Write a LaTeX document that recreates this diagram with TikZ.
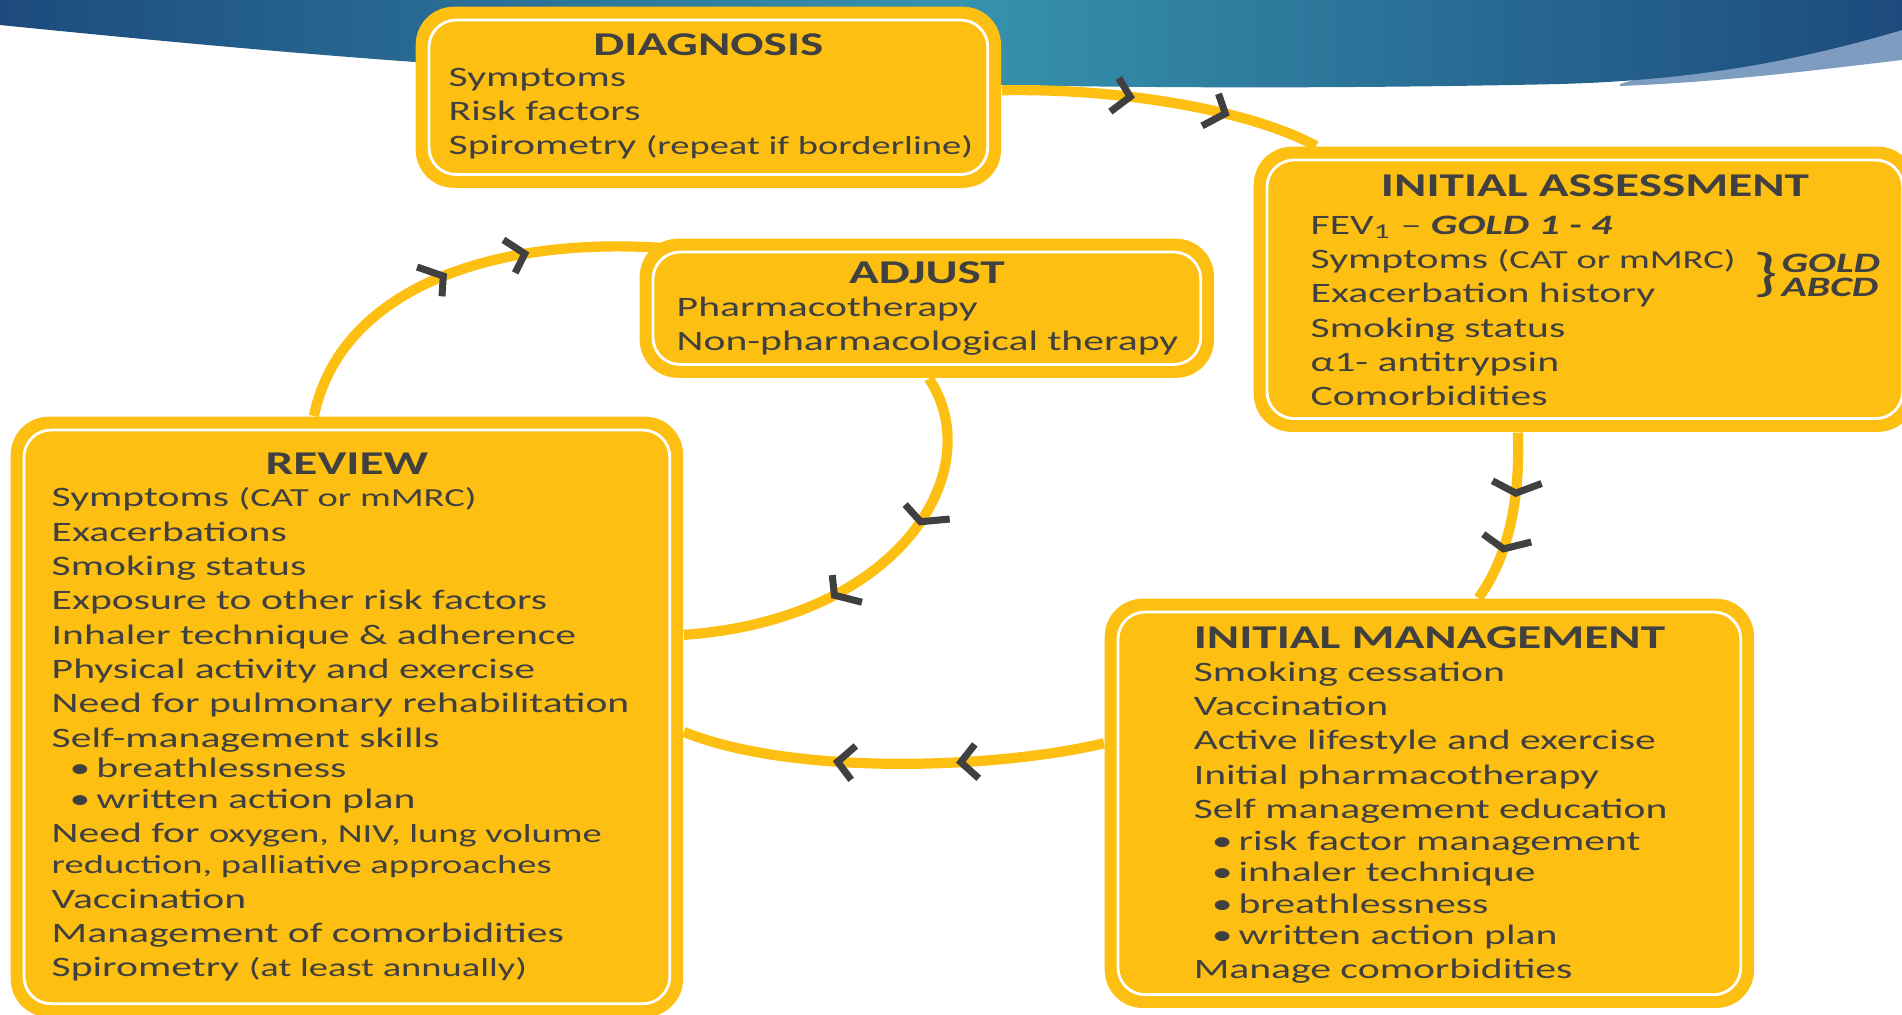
\documentclass[tikz,border=0pt]{standalone}
\usepackage{fontspec}
\setmainfont{Carlito}[FakeStretch=1.48]
\usetikzlibrary{calc,positioning,backgrounds,decorations.markings}

\definecolor{gold}{HTML}{FCBF12}
\definecolor{ink}{HTML}{404040}
\definecolor{navy}{HTML}{1C4A7C}
\definecolor{sea}{HTML}{3793AE}
\definecolor{pale}{HTML}{7D9CC0}

\newcommand{\smalltxt}[1]{{\fontsize{7.4}{9.76}\selectfont #1}}
\newcommand{\bul}{\hspace*{0.18cm}\textbullet\hspace{0.06cm}}

% chevron on a connector, widened like the rest of the drawing
\newcommand{\chevron}{%
  \pgfgettransformentries{\ca}{\cb}{\cc}{\cd}{\ctx}{\cty}%
  \pgfmathsetmacro{\cphi}{atan2(\cb,\ca)}%
  \pgfmathsetmacro{\cpsi}{atan2(\cb,\ca/1.45)}%
  \draw[chev, rotate=-\cphi, xscale=1.45, rotate=\cpsi] (-11,17) -- (0,0) -- (-11,-17);}

\tikzset{
  stage/.style = {rectangle, fill=gold, rounded corners=0.38cm, anchor=north west, inner sep=0pt},
  rim/.style = {draw=white, line width=0.8pt, rounded corners=0.27cm},
  head/.style = {anchor=base, inner sep=0pt, text=ink, font=\fontsize{9.45}{11}\selectfont\bfseries},
  body/.style = {anchor=north west, inner sep=0pt, align=left, text=ink,
    font=\fontsize{8}{9.76}\selectfont, execute at begin node=\strut},
  chev/.style = {draw=ink, line width=2pt, line join=miter},
  flow/.style 2 args = {draw=gold, line width=2.9pt, postaction={decorate},
    decoration={markings,
      mark=at position #1 with {\chevron},
      mark=at position #2 with {\chevron}}}
}

\begin{document}
\begin{tikzpicture}[x=0.01cm, y=-0.01cm]
\useasboundingbox (0,0) rectangle (1902,1014);
\clip (0,0) rectangle (1902,1014);

%boxes of the cycle
\node[stage, minimum width=5.85cm, minimum height=1.81cm] (diag) at (415,6) {};
\node[stage, minimum width=6.62cm, minimum height=2.85cm] (ia) at (1253,146) {};
\node[stage, minimum width=5.74cm, minimum height=1.39cm] (adjust) at (639,238) {};
\node[stage, minimum width=6.72cm, minimum height=6.00cm] (review) at (10,416) {};
\node[stage, minimum width=6.49cm, minimum height=4.09cm] (im) at (1104,598) {};

%white inner rims
\foreach \b in {diag,ia,adjust,review,im}
  \draw[rim] ([shift={(0.14cm,-0.14cm)}]\b.north west) rectangle ([shift={(-0.14cm,0.14cm)}]\b.south east);

\begin{scope}[on background layer]
%banner
\fill[pale] (1620,84) -- (1902,0) -- (1902,60) .. controls (1800,72) and (1720,82) .. (1620,86) -- cycle;
\shade[left color=navy, right color=navy, middle color=sea]
  (0,0) -- (1902,0) -- (1902,30) .. controls (1800,60) and (1700,80) .. (1560,84)
  .. controls (1200,92) and (800,86) .. (415,62) .. controls (250,50) and (100,35) .. (0,25) -- cycle;

%connectors
\draw[flow={0.4}{0.7}] ([yshift=0.07cm]diag.east) .. controls (1120,88) and (1250,110) .. ([xshift=0.63cm]ia.north west);
\draw[flow={0.35}{0.68}] ([xshift=-0.67cm]ia.south) .. controls (1520,490) and (1512,552) .. ([xshift=0.49cm]im.north);
\draw[flow={0.34}{0.63}] ([yshift=0.6cm]im.west) .. controls (990,770) and (790,775) .. ([yshift=-0.15cm]review.east);
\draw[flow={0.36}{0.63}] ([xshift=0.02cm]adjust.south) .. controls (990,470) and (900,620) .. ([yshift=0.82cm]review.east);
\draw[flow={0.47}{0.67}] ([xshift=-0.33cm]review.north) .. controls (340,290) and (490,236) .. ([shift={(0.25cm,-0.1cm)}]adjust.north west);
\end{scope}

%titles
\node[head] (diag-t) at ([yshift=-0.49cm]diag.north) {DIAGNOSIS};
\node[head] (ia-t) at ([shift={(0.1cm,-0.5cm)}]ia.north) {INITIAL ASSESSMENT};
\node[head] (adjust-t) at ([yshift=-0.45cm]adjust.north) {ADJUST};
\node[head] (review-t) at ([yshift=-0.58cm]review.north) {REVIEW};
\node[head] (im-t) at ([yshift=-0.5cm]im.north) {INITIAL MANAGEMENT};

%contents
\node[body] (diag-b) at ([shift={(0.33cm,-0.61cm)}]diag.north west) {Symptoms\\
  Risk factors\\
  Spirometry \smalltxt{(repeat if borderline)}};

\node[body] (ia-b) at ([shift={(0.57cm,-0.69cm)}]ia.north west) {FEV\textsubscript{1} -- \textbf{\textit{GOLD 1 - 4}}\\
  Symptoms \smalltxt{(CAT or mMRC)}\\
  Exacerbation history\\
  Smoking status\\
  α1- antitrypsin\\
  Comorbidities};
\node[text=ink, inner sep=0pt, font=\fontsize{15}{15}\selectfont] (gold-brace) at (1766,275) {\}};
\node[text=ink, inner sep=0pt, align=left, right=0.02cm of gold-brace,
  font=\fontsize{8}{6.8}\selectfont\bfseries\itshape] (gold-abcd) {GOLD\\ABCD};

\node[body] (adjust-b) at ([shift={(0.37cm,-0.58cm)}]adjust.north west) {Pharmacotherapy\\
  Non-pharmacological therapy};

\node[body] (review-b) at ([shift={(0.41cm,-0.71cm)}]review.north west) {Symptoms \smalltxt{(CAT or mMRC)}\\
  Exacerbations\\
  Smoking status\\
  Exposure to other risk factors\\
  Inhaler technique \& adherence\\
  Physical activity and exercise\\
  Need for pulmonary rehabilitation\\
  Self-management skills\\[-1pt]
  \bul breathlessness\\[-1pt]
  \bul written action plan\\
  Need for \smalltxt{oxygen, NIV, lung volume}\\[-1pt]
  \smalltxt{reduction, palliative approaches}\\
  Vaccination\\
  Management of comorbidities\\
  Spirometry \smalltxt{(at least annually)}};

\node[body] (im-b) at ([shift={(0.89cm,-0.63cm)}]im.north west) {Smoking cessation\\
  Vaccination\\
  Active lifestyle and exercise\\
  Initial pharmacotherapy\\
  Self management education\\[-0.8pt]
  \bul risk factor management\\[-0.8pt]
  \bul inhaler technique\\[-0.8pt]
  \bul breathlessness\\[-0.8pt]
  \bul written action plan\\
  Manage comorbidities};

\end{tikzpicture}
\end{document}
